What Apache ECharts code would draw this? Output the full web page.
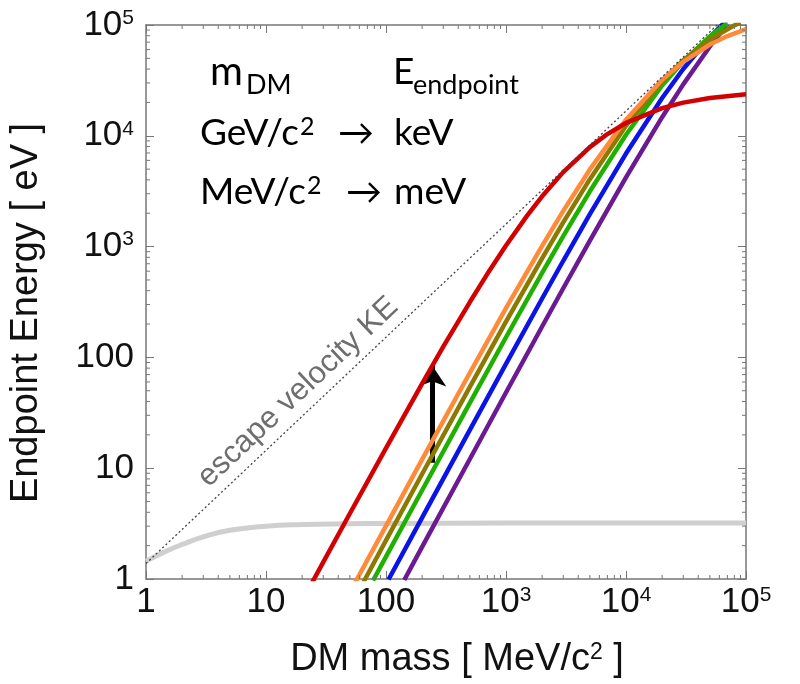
<!DOCTYPE html>
<html>
<head>
<meta charset="utf-8">
<script src="https://cdn.jsdelivr.net/npm/echarts@6/dist/echarts.min.js"></script>
<style>
  html, body { margin: 0; padding: 0; background: #fff; }
  #main { width: 800px; height: 684px; }
</style>
</head>
<body>
<div id="main"></div>
<script>
// tick labels (index = decade exponent)
const xTickLabels = ['1', '10', '100', '{b|10}{s|3}', '{b|10}{s|4}', '{b|10}{s|5}'];
const yTickLabels = ['1', '10', '100', '{b|10}{s|3}', '{b|10}{s|4}', '{b|10}{s|5}'];

// DM mass [MeV/c^2] -> endpoint energy [eV]
const redMass = [24, 30, 50, 100, 200, 300, 500, 700, 1000, 1500, 2000, 3000, 5000, 7000, 10000, 20000, 30000, 50000, 100000];
const redE = [0.91, 1.42, 3.9, 15.2, 58, 125, 316, 568, 1024, 1904, 2844, 4702, 7901, 10367, 13061, 17778, 19931, 21948, 23669];

const orangeMass = [55, 100, 200, 500, 1000, 2000, 3000, 5000, 10000, 20000, 30000, 50000, 70000, 100000];
const orangeE = [0.92, 3.02, 12.0, 72.7, 278, 1016, 2100, 4970, 13986, 31982, 46507, 66651, 79528, 91794];

const oliveMass = [65, 100, 200, 500, 1000, 2000, 3000, 5000, 10000, 20000, 30000, 50000, 80000, 90000];
const oliveE = [0.94, 2.23, 8.86, 54.2, 210, 784, 1654, 4063, 12305, 31017, 47967, 73994, 99167, 105211];

const greenMass = [78, 100, 200, 500, 1000, 2000, 3000, 5000, 10000, 20000, 30000, 50000, 70000];
const greenE = [0.97, 1.59, 6.32, 38.9, 152, 579, 1243, 3154, 10225, 28420, 47003, 79034, 103740];

const blueMass = [105, 200, 500, 1000, 2000, 3000, 5000, 10000, 20000, 30000, 50000, 70000];
const blueE = [0.99, 3.58, 22.2, 87.4, 340, 745, 1962, 6911, 21915, 40045, 77555, 111992];

const purpleMass = [142, 200, 500, 1000, 2000, 3000, 5000, 10000, 20000, 30000, 50000, 70000];
const purpleE = [0.98, 1.95, 12.1, 48.2, 190, 421, 1134, 4220, 14716, 29125, 64000, 101700];

const grayMass = [1, 1.5, 2, 3, 5, 10, 20, 50, 100, 1000, 10000, 100000];
const grayE = [1.45, 1.8, 2.05, 2.4, 2.75, 3.0, 3.1, 3.15, 3.17, 3.2, 3.2, 3.2];

const escapeMass = [1, 57500];
const escapeE = [1.38, 100000];

const arrowMass = 243;
const arrowFrom = 11.2;
const arrowTo = 84.5;

// minor tick positions 2..9 per decade
const minorTicks = [];
[1, 10, 100, 1000, 10000].forEach(d => {
  for (let k = 2; k <= 9; k++) minorTicks.push(k * d);
});

const zip = (xs, ys) => xs.map((x, i) => [x, ys[i]]);

const axisFont = 'Liberation Sans, Arial, sans-serif';
const noteFont = 'Lato, DejaVu Sans, sans-serif';
const frameColor = '#777';

const labelRich = {
  b: { fontSize: 35, fontFamily: axisFont, color: '#111' },
  s: { fontSize: 21, fontFamily: axisFont, color: '#111', verticalAlign: 'top', padding: [0, 0, 12, 0] }
};

function expIndex(v) {
  return Math.round(Math.log10(v));
}

function curve(name, xs, ys, color, z) {
  return {
    name: name,
    type: 'line',
    data: zip(xs, ys),
    showSymbol: false,
    clip: true,
    z: z,
    lineStyle: { color: color, width: 4.5 },
    emphasis: { disabled: true }
  };
}

const chart = echarts.init(document.getElementById('main'));

const option = {
  animation: false,
  backgroundColor: '#fff',
  grid: { left: 143, right: 54, top: 25, bottom: 101 },
  xAxis: [
    {
      type: 'log',
      logBase: 10,
      min: 1,
      max: 100000,
      position: 'bottom',
      name: 'DM mass [ MeV/c{s|2} ]',
      nameLocation: 'middle',
      nameGap: 62,
      nameTextStyle: {
        fontSize: 38,
        fontFamily: axisFont,
        color: '#111',
        padding: [0, 0, 0, 22],
        rich: {
          s: { fontSize: 23, fontFamily: axisFont, color: '#111', verticalAlign: 'top', padding: [0, 0, 14, 0] }
        }
      },
      axisLine: { show: true, lineStyle: { color: frameColor, width: 1.5 } },
      axisTick: { show: true, inside: true, length: 8, lineStyle: { color: frameColor } },
      splitLine: { show: false },
      axisLabel: {
        margin: 6,
        fontSize: 35,
        fontFamily: axisFont,
        color: '#111',
        showMinLabel: true,
        showMaxLabel: true,
        formatter: v => xTickLabels[expIndex(v)],
        rich: labelRich
      }
    },
    {
      type: 'log',
      logBase: 10,
      min: 1,
      max: 100000,
      position: 'top',
      axisLine: { show: true, lineStyle: { color: frameColor, width: 1.5 } },
      axisTick: { show: true, inside: true, length: 8, lineStyle: { color: frameColor } },
      splitLine: { show: false },
      axisLabel: { show: false }
    }
  ],
  yAxis: [
    {
      type: 'log',
      logBase: 10,
      min: 1,
      max: 100000,
      position: 'left',
      name: 'Endpoint Energy [ eV ]',
      nameLocation: 'middle',
      nameGap: 100,
      nameTextStyle: {
        fontSize: 38,
        fontFamily: axisFont,
        color: '#111',
        padding: [0, 22, 0, 0]
      },
      axisLine: { show: true, lineStyle: { color: frameColor, width: 1.5 } },
      axisTick: { show: true, inside: true, length: 8, lineStyle: { color: frameColor } },
      splitLine: { show: false },
      axisLabel: {
        margin: 12,
        fontSize: 35,
        fontFamily: axisFont,
        color: '#111',
        showMinLabel: true,
        showMaxLabel: true,
        formatter: v => yTickLabels[expIndex(v)],
        rich: labelRich
      }
    },
    {
      type: 'log',
      logBase: 10,
      min: 1,
      max: 100000,
      position: 'right',
      axisLine: { show: true, lineStyle: { color: frameColor, width: 1.5 } },
      axisTick: { show: true, inside: true, length: 8, lineStyle: { color: frameColor } },
      splitLine: { show: false },
      axisLabel: { show: false }
    }
  ],
  series: [
    {
      name: 'gray',
      type: 'line',
      data: zip(grayMass, grayE),
      showSymbol: false,
      smooth: true,
      z: 2,
      lineStyle: { color: '#cfcfcf', width: 5 },
      emphasis: { disabled: true }
    },
    curve('purple', purpleMass, purpleE, '#6b1a92', 3),
    curve('blue', blueMass, blueE, '#0a14e6', 4),
    curve('green', greenMass, greenE, '#1fb000', 5),
    curve('olive', oliveMass, oliveE, '#8c7a00', 6),
    curve('orange', orangeMass, orangeE, '#ff8a3a', 7),
    curve('red', redMass, redE, '#d20000', 8),
    {
      name: 'escape velocity KE',
      type: 'line',
      data: zip(escapeMass, escapeE),
      showSymbol: false,
      clip: true,
      z: 9,
      lineStyle: { color: '#444', width: 1.3, type: [2, 2.5] },
      emphasis: { disabled: true },
      markLine: {
        silent: true,
        symbol: ['none', 'arrow'],
        symbolSize: 21,
        label: { show: false },
        lineStyle: { color: '#000', width: 5, type: 'solid' },
        data: [[{ coord: [arrowMass, arrowFrom] }, { coord: [arrowMass, arrowTo] }]]
      }
    },
    {
      name: 'minorX',
      type: 'custom',
      silent: true,
      clip: false,
      z: 10,
      data: minorTicks.map(v => [v, 1]),
      renderItem: (params, api) => {
        const p = api.coord([api.value(0), api.value(1)]);
        const cs = params.coordSys;
        const style = { stroke: frameColor, lineWidth: 1 };
        return {
          type: 'group',
          children: [
            { type: 'line', shape: { x1: p[0], y1: cs.y + cs.height, x2: p[0], y2: cs.y + cs.height - 4 }, style: style },
            { type: 'line', shape: { x1: p[0], y1: cs.y, x2: p[0], y2: cs.y + 4 }, style: style }
          ]
        };
      }
    },
    {
      name: 'minorY',
      type: 'custom',
      silent: true,
      clip: false,
      z: 10,
      data: minorTicks.map(v => [1, v]),
      renderItem: (params, api) => {
        const p = api.coord([api.value(0), api.value(1)]);
        const cs = params.coordSys;
        const style = { stroke: frameColor, lineWidth: 1 };
        return {
          type: 'group',
          children: [
            { type: 'line', shape: { x1: cs.x, y1: p[1], x2: cs.x + 4, y2: p[1] }, style: style },
            { type: 'line', shape: { x1: cs.x + cs.width, y1: p[1], x2: cs.x + cs.width - 4, y2: p[1] }, style: style }
          ]
        };
      }
    }
  ],
  graphic: [
    {
      type: 'text',
      x: 298,
      y: 392,
      rotation: 43.2 * Math.PI / 180,
      z: 20,
      style: {
        text: 'escape velocity KE',
        fontSize: 31,
        fontFamily: axisFont,
        fill: '#6e6e6e',
        align: 'center',
        verticalAlign: 'middle'
      }
    },
    { type: 'text', x: 210, y: 72, z: 20, style: { text: 'm', fontSize: 40, fontFamily: noteFont, fill: '#000', align: 'left', verticalAlign: 'middle' } },
    { type: 'text', x: 246, y: 85, z: 20, style: { text: 'DM', fontSize: 27, fontFamily: noteFont, fill: '#000', align: 'left', verticalAlign: 'middle' } },
    { type: 'text', x: 393, y: 72, z: 20, style: { text: 'E', fontSize: 37, fontFamily: noteFont, fill: '#000', align: 'left', verticalAlign: 'middle' } },
    { type: 'text', x: 413, y: 85, z: 20, style: { text: 'endpoint', fontSize: 27, fontFamily: noteFont, fill: '#000', align: 'left', verticalAlign: 'middle' } },
    {
      type: 'text', x: 200, y: 133, z: 20,
      style: {
        text: '{n|GeV/c}{s|2}', align: 'left', verticalAlign: 'middle',
        rich: {
          n: { fontSize: 37, fontFamily: noteFont, fill: '#000' },
          s: { fontSize: 25, fontFamily: noteFont, fill: '#000', verticalAlign: 'top', padding: [0, 0, 10, 1] }
        }
      }
    },
    { type: 'text', x: 338, y: 133, z: 20, style: { text: '→', fontSize: 36, fontFamily: noteFont, fill: '#000', align: 'left', verticalAlign: 'middle' } },
    { type: 'text', x: 394, y: 133, z: 20, style: { text: 'keV', fontSize: 37, fontFamily: noteFont, fill: '#000', align: 'left', verticalAlign: 'middle' } },
    {
      type: 'text', x: 200, y: 192, z: 20,
      style: {
        text: '{n|MeV/c}{s|2}', align: 'left', verticalAlign: 'middle',
        rich: {
          n: { fontSize: 37, fontFamily: noteFont, fill: '#000' },
          s: { fontSize: 25, fontFamily: noteFont, fill: '#000', verticalAlign: 'top', padding: [0, 0, 10, 1] }
        }
      }
    },
    { type: 'text', x: 346, y: 192, z: 20, style: { text: '→', fontSize: 36, fontFamily: noteFont, fill: '#000', align: 'left', verticalAlign: 'middle' } },
    { type: 'text', x: 394, y: 192, z: 20, style: { text: 'meV', fontSize: 37, fontFamily: noteFont, fill: '#000', align: 'left', verticalAlign: 'middle' } }
  ]
};

chart.setOption(option);
</script>
</body>
</html>
